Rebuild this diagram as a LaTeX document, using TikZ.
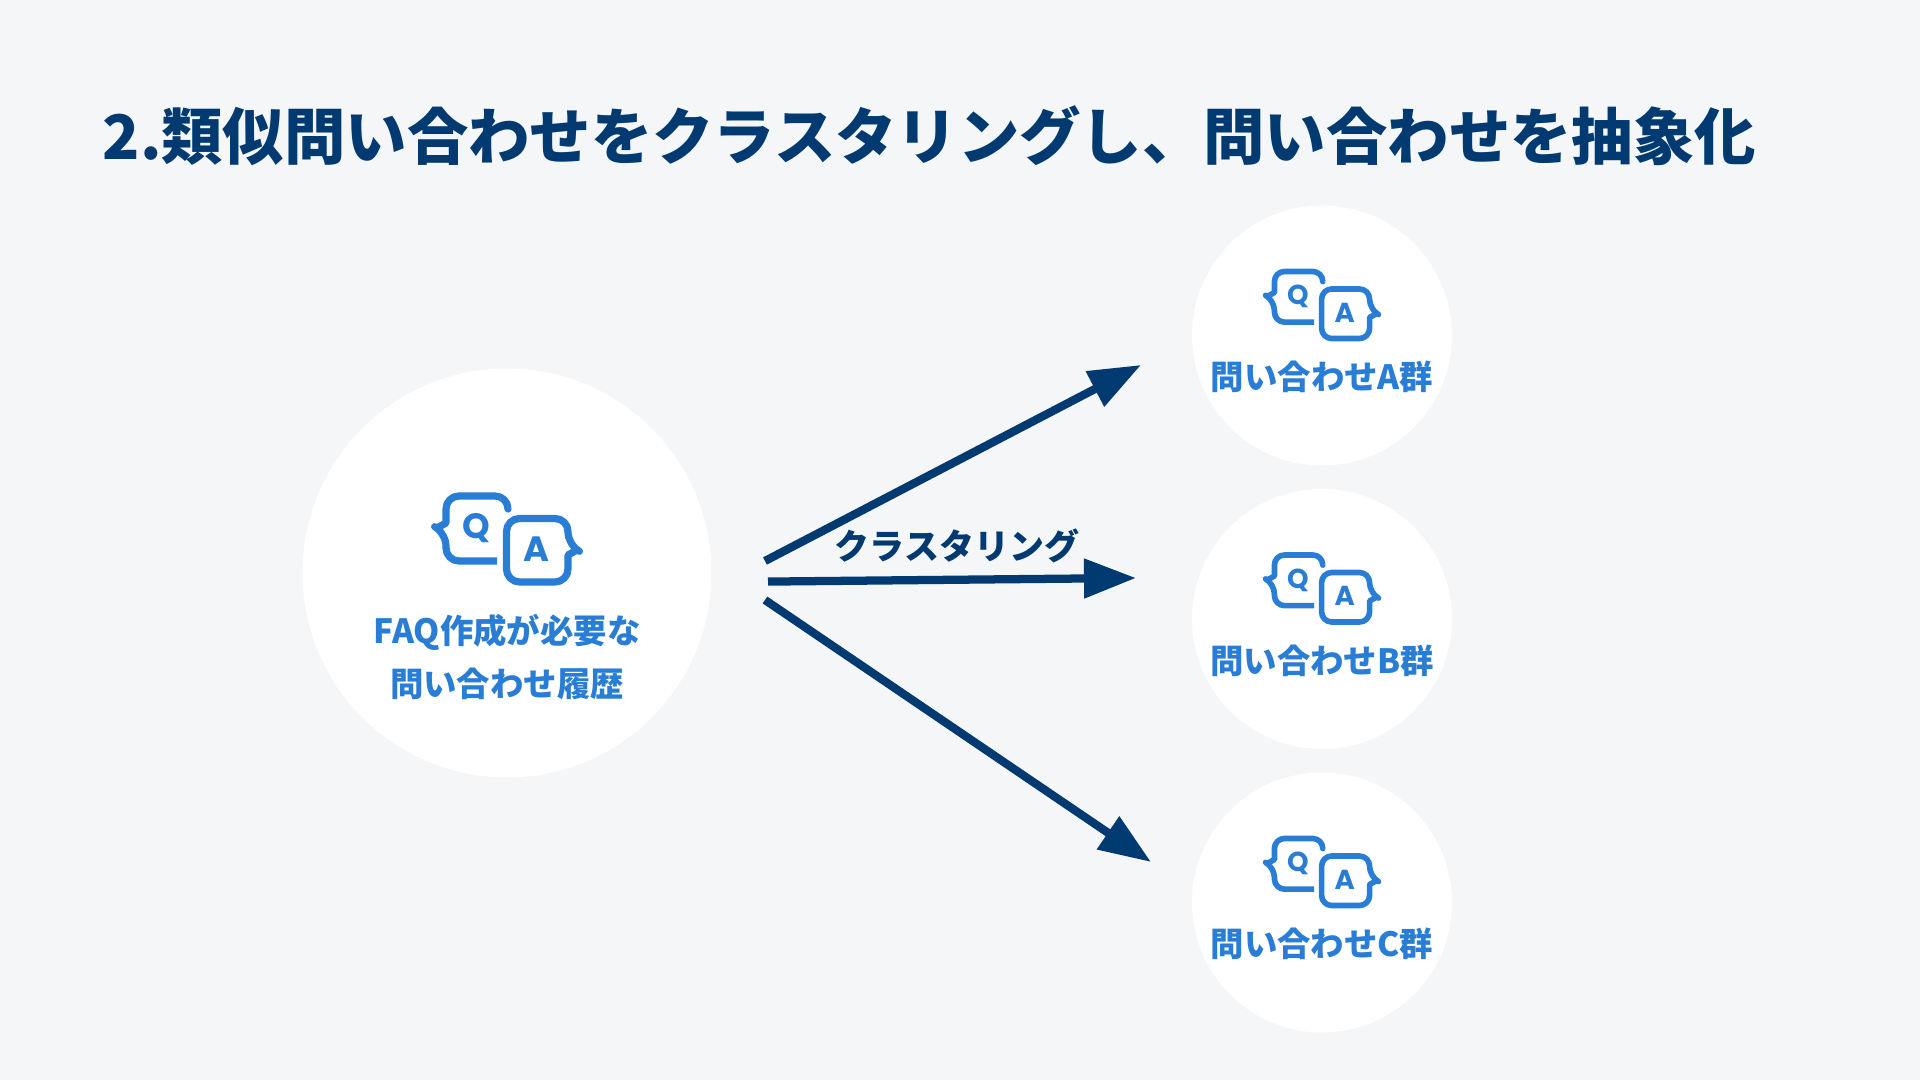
\documentclass[tikz,border=0pt]{standalone}
\usepackage{fontspec}
\setmainfont{Noto Sans CJK JP}
\newfontfamily\markfont{Poppins}
\usetikzlibrary{positioning, arrows.meta}
\definecolor{FAQ_Navy}{HTML}{003A70}
\definecolor{FAQ_Blue}{HTML}{2A7DD5}
\definecolor{FAQ_Back}{HTML}{F4F6F8}

\begin{document}
\begin{tikzpicture}[
  disc/.style={circle, fill=white, minimum size=#1, inner sep=0pt, outer sep=0pt},
  disc/.default={2.6cm},
  grouplabel/.style={FAQ_Blue, inner sep=0pt, align=center,
    font=\bfseries\fontsize{9.5}{15.2}\selectfont},
  qamark/.style={transform shape, inner sep=0pt, font=\markfont\bfseries\fontsize{10}{10}\selectfont},
  arr/.style={-{Triangle[length=14.8pt, width=10.8pt]}, line width=2.35pt, FAQ_Navy},
  pics/qaicon/.style={code={
    \begin{scope}[scale=#1, FAQ_Blue, line width={#1*2.05pt}, line join=round]
      % Q bubble, left open towards the A bubble
      \draw[rounded corners={#1*1.3mm}] (-0.10,-0.22) -- (-0.61,-0.22) -- (-0.61,0.06)
        [sharp corners] -- (-0.70,0.11) -- (-0.61,0.16)
        [rounded corners={#1*1.3mm}] -- (-0.61,0.43) -- (0.01,0.43) -- (0.01,0.30);
      % A bubble
      \draw[rounded corners={#1*1.3mm}] (-0.005,-0.43) -- (-0.005,0.205) -- (0.61,0.205)
        -- (0.61,-0.06) [sharp corners] -- (0.70,-0.11) -- (0.61,-0.16)
        [rounded corners={#1*1.3mm}] -- (0.61,-0.43) -- cycle;
      \node[qamark] (qmark) at (-0.31,0.11) {Q};
      \node[qamark] (amark) at (0.29,-0.10) {A};
    \end{scope}
  }}
]
  \useasboundingbox (0,0) rectangle (19.2,10.8);
  \fill[FAQ_Back] (0,0) rectangle (19.2,10.8);

  % Title
  \node[FAQ_Navy, anchor=west, inner sep=0pt, font=\bfseries\fontsize{17.46}{17.46}\selectfont]
    (title) at (1.02,9.44) {2.類似問い合わせをクラスタリングし、問い合わせを抽象化};

  % Source circle
  \node[disc=4.09cm] (history) at (5.07,5.07) {};
  \pic (historyicon) at (5.07,5.41) {qaicon=1};
  \node[grouplabel] (historylabel) at ([yshift=-0.84cm]history.center)
    {FAQ作成が必要な\\問い合わせ履歴};

  % Cluster circles
  \node[disc] (groupA) at (13.22,7.445) {};
  \node[disc, below=0.235cm of groupA] (groupB) {};
  \node[disc, below=0.235cm of groupB] (groupC) {};
  \foreach \g in {A,B,C} {
    \pic (icon\g) at ([yshift=0.305cm]group\g.center) {qaicon=0.78};
    \node[grouplabel] (label\g) at ([yshift=-0.415cm]group\g.center) {問い合わせ\g{}群};
  }

  % Arrows
  \coordinate (startA) at (7.65,5.19);
  \coordinate (startB) at (7.68,4.984);
  \coordinate (startC) at (7.65,4.80);
  \coordinate (endA) at (11.41,7.15);
  \coordinate (endB) at (11.36,5.02);
  \coordinate (endC) at (11.51,2.18);
  \draw[arr] (startA) -- (endA);
  \draw[arr] (startB) -- (endB);
  \draw[arr] (startC) -- (endC);

  \node[FAQ_Navy, inner sep=0pt, font=\bfseries\fontsize{9.95}{9.95}\selectfont]
    (clusterlabel) at (9.57,5.34) {クラスタリング};
\end{tikzpicture}
\end{document}
